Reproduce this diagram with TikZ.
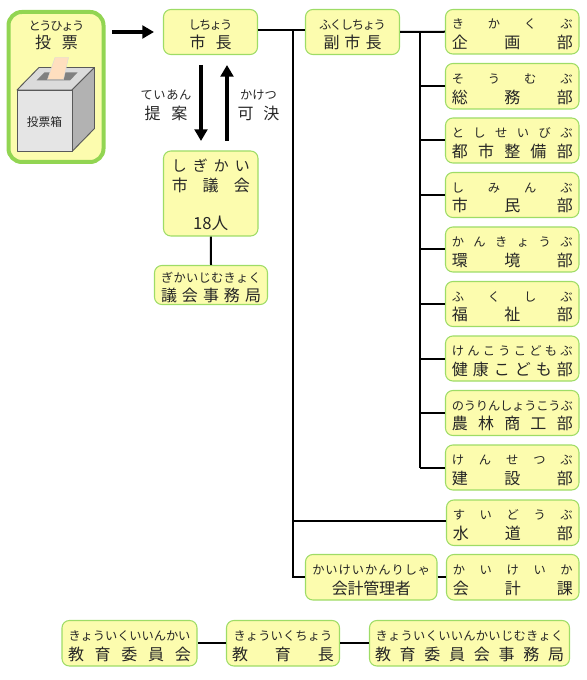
\documentclass[tikz,border=0pt]{standalone}
\usepackage{fontspec}
\setmainfont{Noto Sans CJK JP}
\usetikzlibrary{arrows.meta}
\definecolor{boxfill}{HTML}{FCFCAE}
\definecolor{boxline}{HTML}{9EDC66}
\definecolor{voteline}{HTML}{92D552}
\makeatletter
\def\spr#1{\sprA#1\relax}
\def\sprA#1#2\relax{#1\ifx\relax#2\relax\else\hskip 0pt plus 1fil minus 1fil\sprA#2\relax\fi}
\makeatother
% furigana line and kanji line, each spread over a width given in px
\newcommand{\furi}[2]{{\fontsize{9.2pt}{15pt}\selectfont\makebox[\dimexpr#1pt*3/4\relax][s]{\spr{#2}}}}
\newcommand{\kan}[2]{{\fontsize{12pt}{15pt}\selectfont\makebox[\dimexpr#1pt*3/4\relax][s]{\spr{#2}}}}
\newcommand{\bigk}[2]{{\fontsize{11.2pt}{15pt}\selectfont\makebox[\dimexpr#1pt*3/4\relax][s]{\spr{#2}}}}
\newcommand{\topstrut}{\rule{0pt}{11.6pt}}
\newcommand{\orgbox}[9]{%
  \node[orgnode,minimum width={(#4-#2)*0.75pt},minimum height={(#5-#3)*0.75pt}]
    (#1) at ({(#2+#4)/2},{(#3+#5)/2})
    {\topstrut\furi{#6}{#7}\\\kan{#8}{#9}};}
\tikzset{
  orgnode/.style={draw=boxline,fill=boxfill,line width=0.8pt,rounded corners=5.5pt,
    inner sep=0pt,align=center,font=\fontsize{12pt}{14.8pt}\selectfont,text=black!85},
  conn/.style={draw=black,line width=1.5pt},
  bigarrow/.style={draw=black,line width=2.7pt,-{Triangle[length=8.8pt,width=9.6pt]}},
  labeltext/.style={inner sep=0pt,align=center,text=black!85,font=\fontsize{12pt}{14.8pt}\selectfont},
  boxedge/.style={draw=black!65,line width=0.7pt,line join=round}
}
\begin{document}
\begin{tikzpicture}[x=0.75pt,y=-0.75pt]
\useasboundingbox (0,0) rectangle (586,680);
% connector helper coordinates
\coordinate (jtop) at (293,30);
\coordinate (jmid) at (293,521);
\coordinate (jbot) at (293,577);
\coordinate (vtop) at (420,31.7);
\coordinate (vbot) at (420,467.5);
\coordinate (a1s) at (112,32);
\coordinate (a1e) at (154,32);
\coordinate (a2s) at (201,65);
\coordinate (a2e) at (201,141);
\coordinate (a3s) at (227,141);
\coordinate (a3e) at (227,65);
% vote box
\node[draw=voteline,fill=boxfill,line width=3pt,rounded corners=10pt,minimum width=95*0.75pt,minimum height=150*0.75pt,inner sep=0pt] (vote) at (56,87) {};
\node[labeltext] (votelabel) at (56.5,35.5) {\furi{56}{とうひょう}\\[-1pt]\kan{43}{投票}};
% ballot box
\filldraw[boxedge,fill=black!14] (17,90) -- (39,67.5) -- (94.5,67.5) -- (72,90) -- cycle;
\filldraw[boxedge,fill=black!30] (72,90) -- (94.5,67.5) -- (94.5,128.5) -- (72,151.5) -- cycle;
\filldraw[boxedge,fill=black!10] (17,90) rectangle (72,151.5);
\fill[black!50] (36.5,80.5) -- (44.5,72.5) -- (77.5,72.5) -- (70,80.5) -- cycle;
\filldraw[draw=black!15,fill=orange!25!white,line width=0.3pt] (47.5,79.5) -- (55,57.5) -- (68.5,57.5) -- (63.5,79.5) -- cycle;
\node[labeltext,font=\fontsize{8.8pt}{10pt}\selectfont] (boxlabel) at (44.5,122) {投票箱};
% boxes
\orgbox{sicho}{163.5}{9.5}{257.5}{54.5}{44}{しちょう}{42}{市長}
\orgbox{fuku}{305.5}{9.5}{399.5}{54.5}{67}{ふくしちょう}{58}{副市長}
\orgbox{kikaku}{445.5}{9.5}{579}{54}{121}{きかくぶ}{121}{企画部}
\orgbox{somu}{445.5}{63.5}{579}{109}{121}{そうむぶ}{121}{総務部}
\orgbox{toshi}{445.5}{118}{579}{163}{121}{としせいびぶ}{121}{都市整備部}
\orgbox{shimin}{445.5}{172.5}{579}{217.5}{121}{しみんぶ}{121}{市民部}
\orgbox{kankyo}{445.5}{227}{579}{272}{121}{かんきょうぶ}{121}{環境部}
\orgbox{fukushi}{445.5}{281.5}{579}{326.5}{121}{ふくしぶ}{121}{福祉部}
\orgbox{kenko}{445.5}{336}{579}{381}{121}{けんこうこどもぶ}{121}{健康こども部}
\orgbox{nourin}{445.5}{390.5}{579}{435.5}{121}{のうりんしょうこうぶ}{121}{農林商工部}
\orgbox{kensetsu}{445.5}{445}{579}{490}{121}{けんせつぶ}{121}{建設部}
\orgbox{suido}{446.5}{500}{579}{545.5}{120}{すいどうぶ}{120}{水道部}
\orgbox{kaikei}{446.5}{554.5}{579}{600}{120}{かいけいか}{120}{会計課}
\orgbox{kanri}{305.5}{554.5}{437}{600}{118}{かいけいかんりしゃ}{79}{会計管理者}
\orgbox{iinkai}{62}{620.5}{197}{666}{122}{きょういくいいんかい}{123}{教育委員会}
\orgbox{kyoiku}{226.5}{620.5}{339.5}{666}{99}{きょういくちょう}{102}{教育長}
\orgbox{iinjimu}{369.5}{620.5}{569.5}{666}{188}{きょういくいいんかいじむきょく}{189}{教育委員会事務局}
\orgbox{gijimu}{154.5}{265.5}{267.5}{304.5}{100}{ぎかいじむきょく}{100}{議会事務局}
\node[orgnode,minimum width=94.5*0.75pt,minimum height=85*0.75pt] (gikai) at (210.75,193.5)
  {\topstrut\bigk{78}{しぎかい}\\\kan{78}{市議会}\\[14.3pt]{\fontsize{12.5pt}{15pt}\selectfont 18人}};
% arrow labels
\node[labeltext] (teian) at (166,105) {\furi{51}{ていあん}\\\kan{43}{提案}};
\node[labeltext] (kaketsu) at (258.5,105) {\furi{37}{かけつ}\\\kan{42}{可決}};
% connectors
\draw[conn] (sicho.east|-jtop) -- (fuku.west|-jtop);
\draw[conn,line join=miter] (jtop) -- (jbot) -- (kanri.west|-jbot);
\draw[conn] (jmid) -- (suido.west|-jmid);
\draw[conn] (kanri.east) -- (kaikei.west);
\draw[conn] (fuku.east) -- (kikaku.west);
\draw[conn] (vtop) -- (vbot);
\foreach \n in {somu,toshi,shimin,kankyo,fukushi,kenko,nourin,kensetsu}
  \draw[conn] (vtop|-\n.west) -- (\n.west);
\draw[conn] (gikai.south) -- (gijimu.north);
\draw[conn] (iinkai.east) -- (kyoiku.west);
\draw[conn] (kyoiku.east) -- (iinjimu.west);
\draw[bigarrow] (a1s) -- (a1e);
\draw[bigarrow] (a2s) -- (a2e);
\draw[bigarrow] (a3s) -- (a3e);
\end{tikzpicture}
\end{document}
